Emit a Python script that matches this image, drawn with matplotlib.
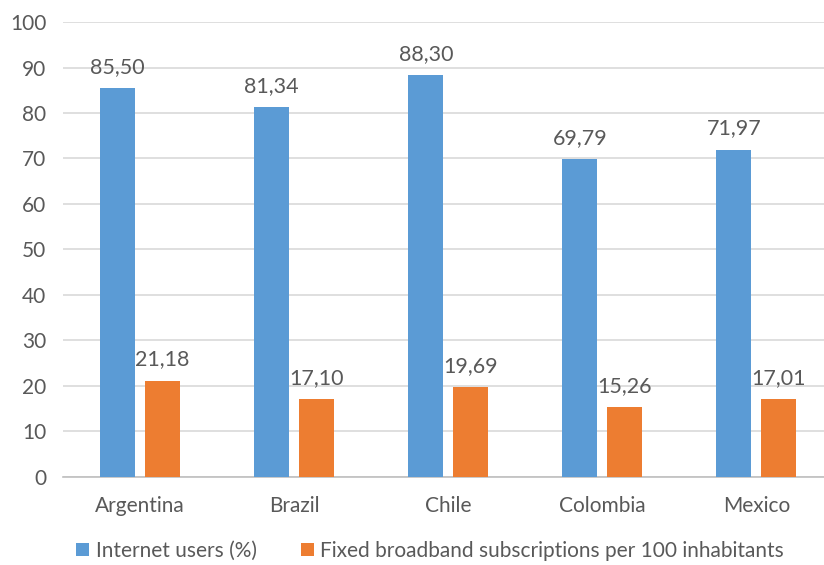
import matplotlib.pyplot as plt
import numpy as np

plt.rcParams['font.family'] = ['Lato', 'DejaVu Sans']

# Country data
countries = ['Argentina', 'Brazil', 'Chile', 'Colombia', 'Mexico']
internet_users = [85.50, 81.34, 88.30, 69.79, 71.97]
broadband = [21.18, 17.10, 19.69, 15.26, 17.01]

blue = '#5B9BD5'
orange = '#ED7D31'
txt = '#595959'

fig = plt.figure(figsize=(8.24, 5.65), dpi=100)
ax = fig.add_axes([0.0765, 0.156, 0.935, 0.805])

x = np.arange(len(countries))
w = 0.227
off = 0.146
b1 = ax.bar(x - off, internet_users, w, color=blue, label='Internet users (%)', zorder=3)
b2 = ax.bar(x + off, broadband, w, color=orange,
            label='Fixed broadband subscriptions per 100 inhabitants', zorder=3)

# value labels with comma decimals
for bars, vals in ((b1, internet_users), (b2, broadband)):
    for rect, v in zip(bars, vals):
        ax.annotate(f'{v:.2f}'.replace('.', ','),
                    (rect.get_x() + rect.get_width() / 2, v),
                    xytext=(0, 8), textcoords='offset points',
                    ha='center', va='bottom', fontsize=15.5, color=txt)

ax.set_ylim(0, 100)
ax.set_xlim(-0.5, len(countries) - 0.5)
ax.set_yticks(range(0, 101, 10))
ax.set_xticks(x)
ax.set_xticklabels(countries)
ax.tick_params(axis='both', length=0, labelsize=15, colors=txt)
ax.tick_params(axis='x', pad=14)
ax.tick_params(axis='y', pad=12)
ax.grid(axis='y', color='#D9D9D9', linewidth=1.2, zorder=0)
for s in ('top', 'right', 'left'):
    ax.spines[s].set_visible(False)
ax.spines['bottom'].set_color('#BFBFBF')
ax.spines['bottom'].set_linewidth(1.2)

fig.legend(loc='lower center', bbox_to_anchor=(0.522, -0.026), ncol=2,
           frameon=False, fontsize=15, labelcolor=txt,
           handlelength=0.62, handleheight=0.62, handletextpad=0.33,
           columnspacing=2.1)

fig.savefig('out.png', dpi=100)
